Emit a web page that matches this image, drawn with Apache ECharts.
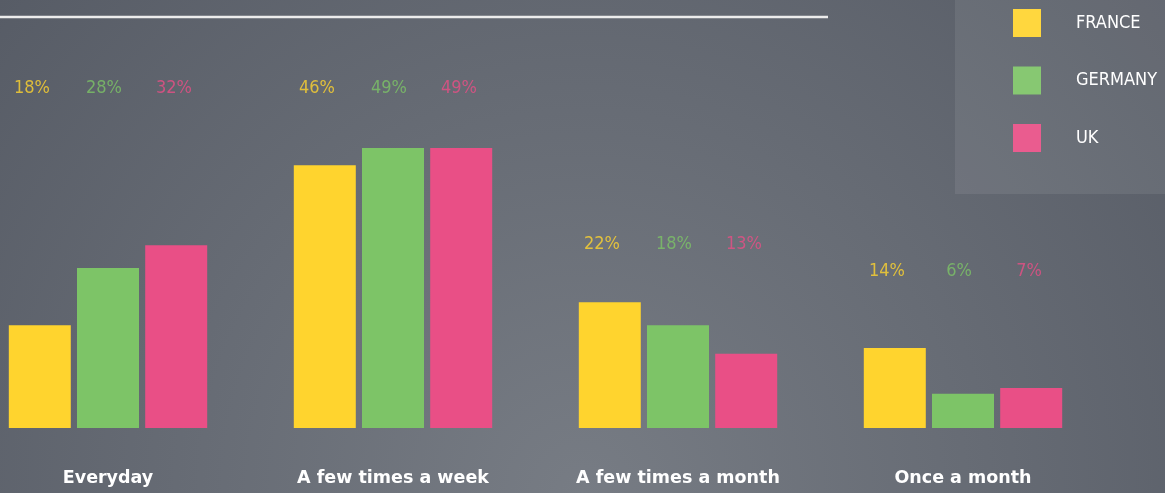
<!DOCTYPE html>
<html>
<head>
<meta charset="utf-8">
<script src="https://cdn.jsdelivr.net/npm/echarts@6/dist/echarts.min.js"></script>
<style>
html, body { margin: 0; padding: 0; }
#main { width: 1165px; height: 493px; }
</style>
</head>
<body>
<div id="main"></div>
<script type="text/javascript">
// data
var categories = ['Everyday', 'A few times a week', 'A few times a month', 'Once a month'];
var france = [18, 46, 22, 14];
var germany = [28, 49, 18, 6];
var uk = [32, 49, 13, 7];
// height (axis units) where the percentage labels of each group sit
var labelLevel = [59.4, 59.4, 32.2, 27.4];

var colors = ['#FFD42E', '#7DC467', '#E94F86'];
var narrow = "'DejaVu Sans Condensed', 'Liberation Sans Narrow', sans-serif";

var chart = echarts.init(document.getElementById('main'));

function labelSeries(name, values, color, dx) {
    return {
        name: name + ' label',
        type: 'scatter',
        symbolSize: 0,
        silent: true,
        data: labelLevel,
        label: {
            show: true,
            position: 'inside',
            offset: [dx, 0],
            color: color,
            fontFamily: narrow,
            fontSize: 18,
            formatter: function (p) { return values[p.dataIndex] + '%'; }
        },
        z: 5
    };
}

function barSeries(name, values, color) {
    return {
        name: name,
        type: 'bar',
        barWidth: 62,
        barGap: '10%',
        itemStyle: { color: color },
        data: values
    };
}

var option = {
    backgroundColor: new echarts.graphic.RadialGradient(0.5, 1.0, 1.6, [
        { offset: 0, color: '#777c84' },
        { offset: 1, color: '#565b65' }
    ]),
    animation: false,
    grid: {
        left: -34.5,
        width: 1140,
        top: 28,
        bottom: 65,
        outerBoundsMode: 'none'
    },
    legend: {
        data: ['FRANCE', 'GERMANY', 'UK'],
        orient: 'vertical',
        left: 1013,
        top: 9,
        itemWidth: 28,
        itemHeight: 28,
        itemGap: 29.5,
        padding: 0,
        icon: 'rect',
        textStyle: {
            color: '#ffffff',
            fontFamily: narrow,
            fontSize: 18,
            padding: [0, 0, 0, 30]
        }
    },
    xAxis: {
        type: 'category',
        data: categories,
        axisLine: { show: false },
        axisTick: { show: false },
        axisLabel: {
            margin: 41,
            color: '#ffffff',
            fontFamily: "'DejaVu Sans', sans-serif",
            fontWeight: 'bold',
            fontSize: 17.5
        }
    },
    yAxis: {
        type: 'value',
        min: 0,
        max: 70,
        show: false,
        splitLine: { show: false }
    },
    graphic: [
        {
            type: 'line',
            shape: { x1: 0, y1: 17, x2: 828, y2: 17 },
            style: { stroke: '#ececec', lineWidth: 2.5 },
            z: 10
        },
        {
            type: 'rect',
            shape: { x: 955, y: 0, width: 210, height: 194 },
            style: { fill: 'rgba(255,255,255,0.08)' },
            silent: true,
            z: 100
        }
    ],
    series: [
        barSeries('FRANCE', france, colors[0]),
        barSeries('GERMANY', germany, colors[1]),
        barSeries('UK', uk, colors[2]),
        labelSeries('FRANCE', france, colors[0], -76),
        labelSeries('GERMANY', germany, colors[1], -4),
        labelSeries('UK', uk, colors[2], 66)
    ]
};

chart.setOption(option);
</script>
</body>
</html>
